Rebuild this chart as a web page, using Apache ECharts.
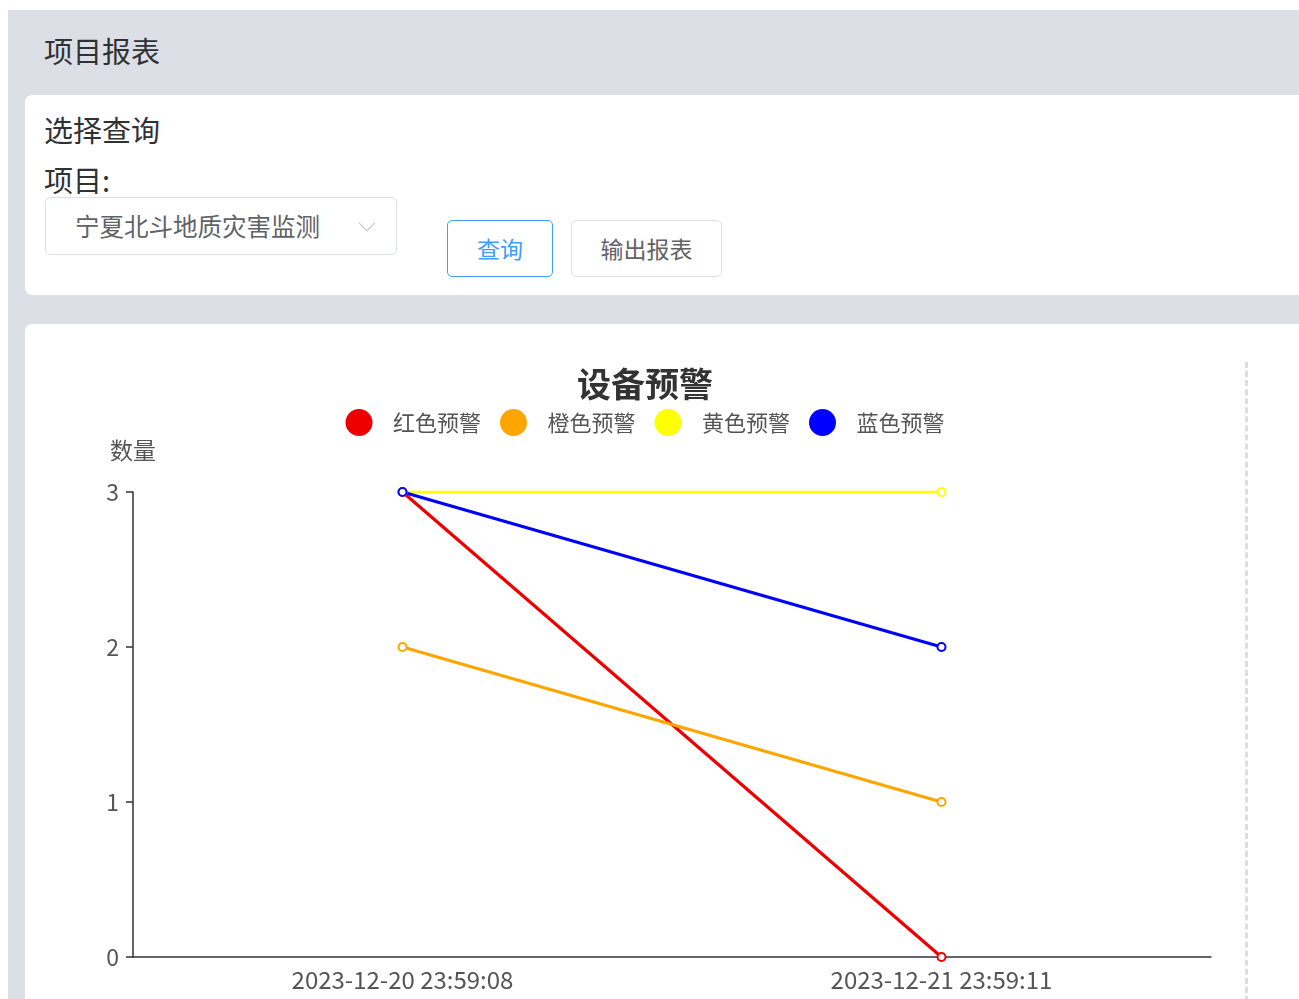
<!DOCTYPE html>
<html>
<head>
<meta charset="utf-8">
<script src="https://cdn.jsdelivr.net/npm/echarts@6/dist/echarts.min.js"></script>
<style>
  html, body { margin:0; padding:0; width:1299px; height:999px; overflow:hidden; background:#fff;
    font-family:"Noto Sans CJK SC","Noto Sans",sans-serif; }
  #bg { position:absolute; left:8px; top:10px; width:1400px; height:1100px; background:#dcdfe6; }
  #hdr { position:absolute; left:44px; top:31px; font-size:29px; color:#303133; line-height:38px; }
  .card { position:absolute; left:25px; width:1400px; background:#fff; border-radius:7px; }
  #c1 { top:95px; height:200px; }
  #c2 { top:324px; height:800px; }
  #t1 { position:absolute; left:44px; top:109px; font-size:29px; color:#303133; line-height:40px; }
  #t2 { position:absolute; left:44px; top:159px; font-size:29px; color:#303133; line-height:40px; }
  #sel { position:absolute; left:45px; top:197px; width:352px; height:58px; border:1px solid #dcdfe6; border-radius:5px; box-sizing:border-box; }
  #sel span { position:absolute; left:29px; top:11px; font-size:24.5px; color:#606266; line-height:34px; }
  #sel i { position:absolute; left:315px; top:19px; width:11px; height:11px; border-right:1.5px solid #c0c4cc; border-bottom:1.5px solid #c0c4cc; transform:rotate(45deg); }
  .btn { position:absolute; top:220px; height:57px; box-sizing:border-box; border-radius:5px; font-size:23px; line-height:54px; text-align:center; }
  #b1 { left:447px; width:106px; border:1.5px solid #409eff; color:#409eff; }
  #b2 { left:571px; width:151px; border:1px solid #dcdfe6; color:#606266; }
  #chart { position:absolute; left:43px; top:345px; width:1204px; height:654px; }
  #dash { position:absolute; left:1245px; top:362px; width:0; height:640px; border-left:3px dashed #dedede; }
</style>
</head>
<body>
<div id="bg"></div>
<div id="hdr">项目报表</div>
<div class="card" id="c1"></div>
<div id="t1">选择查询</div>
<div id="t2">项目:</div>
<div id="sel"><span>宁夏北斗地质灾害监测</span><i></i></div>
<div class="btn" id="b1">查询</div>
<div class="btn" id="b2">输出报表</div>
<div class="card" id="c2"></div>
<div id="dash"></div>
<div id="chart"></div>
<script>
const categories = ['2023-12-20 23:59:08', '2023-12-21 23:59:11'];
const seriesNames = ['红色预警', '橙色预警', '黄色预警', '蓝色预警'];
const seriesColors = ['#ee0000', '#ffa500', '#ffff00', '#0000ff'];
const redValues = [3, 0];
const orangeValues = [2, 1];
const yellowValues = [3, 3];
const blueValues = [3, 2];
const yTicks = [0, 1, 2, 3];

const valueLists = [redValues, orangeValues, yellowValues, blueValues];
const chart = echarts.init(document.getElementById('chart'));
const font = '"Noto Sans CJK SC","Noto Sans",sans-serif';
chart.setOption({
  animation: false,
  color: seriesColors,
  title: {
    text: '设备预警', left: 'center', top: 17,
    textStyle: { fontSize: 34, fontWeight: 'bold', color: '#333', fontFamily: font }
  },
  legend: {
    top: 59, left: 'center', icon: 'circle', itemWidth: 58, itemHeight: 27, itemGap: 19,
    data: seriesNames,
    textStyle: { fontSize: 22, color: '#555', fontFamily: font }
  },
  grid: { left: 90, right: 36, top: 147, bottom: 42, containLabel: false },
  xAxis: {
    type: 'category', data: categories, boundaryGap: true,
    axisLine: { lineStyle: { color: '#333', width: 1.5 } },
    axisTick: { length: 7, lineStyle: { color: '#333', width: 1.5 } },
    axisLabel: { fontSize: 24, color: '#555', margin: 11, fontFamily: font }
  },
  yAxis: {
    type: 'value', min: yTicks[0], max: yTicks[yTicks.length - 1], interval: 1,
    name: '数量', nameGap: 30,
    nameTextStyle: { fontSize: 23, color: '#555', fontFamily: font },
    axisLine: { show: true, lineStyle: { color: '#333', width: 1.5 } },
    axisTick: { show: true, length: 7, lineStyle: { color: '#333', width: 1.5 } },
    splitLine: { show: false },
    axisLabel: { fontSize: 23, color: '#555', margin: 14, fontFamily: font }
  },
  series: seriesNames.map((n, i) => ({
    name: n, type: 'line', data: valueLists[i],
    symbol: 'emptyCircle', symbolSize: 8,
    lineStyle: { width: 3.2, color: seriesColors[i] },
    itemStyle: { color: seriesColors[i], borderWidth: 2 }
  }))
});
</script>
</body>
</html>
